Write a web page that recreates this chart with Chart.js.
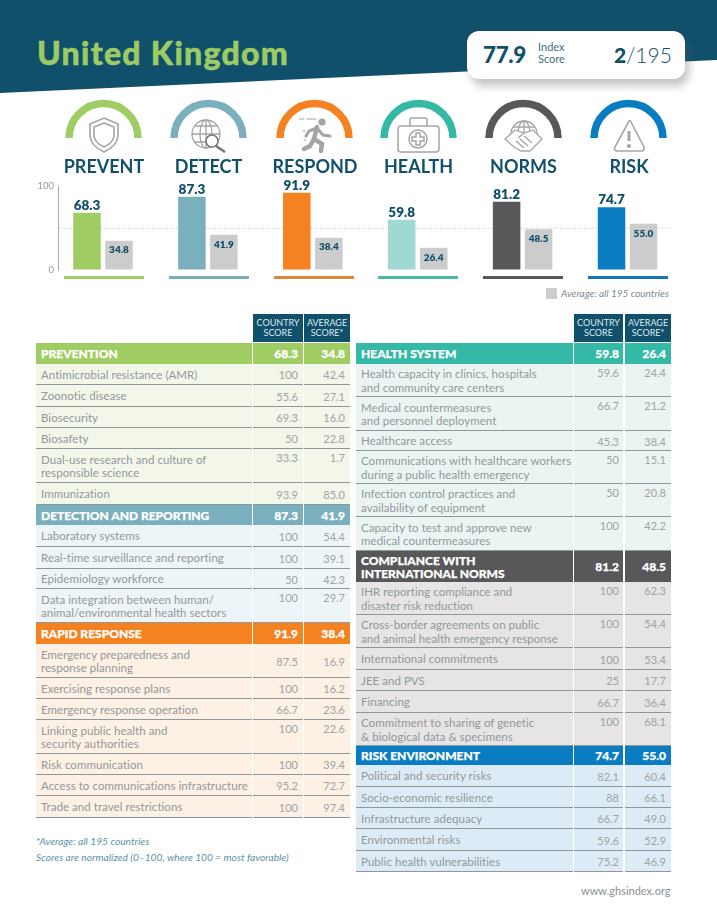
<!DOCTYPE html>
<html>
<head>
<meta charset="utf-8">
<title>United Kingdom</title>
<script src="https://cdn.jsdelivr.net/npm/chart.js@4"></script>
<style>
html, body { margin: 0; padding: 0; background: #fff; }
#page { position: relative; width: 717px; height: 910px; overflow: hidden; font-family: Lato, sans-serif; color: #11506b; }
#page > * { position: absolute; }
.abs { position: absolute; white-space: pre; }
#title { left: 37px; top: 33px; font-size: 32px; font-weight: 900; color: #9ccb63; letter-spacing: 1.3px; -webkit-text-stroke: .5px #9ccb63; }
#scorebox { left: 467px; top: 31px; width: 218px; height: 48px; background: #fff; border-radius: 12px; box-shadow: 4px 7px 8px rgba(90,90,90,.35); }
#legendbox { left: 546px; top: 288px; width: 11px; height: 11px; background: #ccc; }
#legendtxt { left: 561px; top: 287px; font-size: 10px; font-style: italic; color: #7d8a92; }
#foot1 { left: 36px; top: 835px; font-size: 10.2px; font-style: italic; color: #5a93a8; }
#foot2 { left: 36px; top: 851px; font-size: 10.2px; font-style: italic; color: #5a93a8; }
#url { left: 581px; top: 884px; font-size: 11px; color: #8a8f92; }
.cap { font-size: 18px; font-weight: 700; text-align: center; width: 110px; top: 155px; }
.under { top: 276px; height: 3px; }
.head { background: #11506b; color: #dce8ee; font-size: 9px; line-height: 10px; text-align: center; top: 314px; height: 28px; padding-top: 4px; box-sizing: border-box; }
.cell { box-sizing: border-box; }
.lbl { font-size: 11.5px; line-height: 13.5px; color: #939899; letter-spacing: .05px; }
.val { font-size: 11px; line-height: 13px; color: #a0a3a4; text-align: right; }
.sec { color: #fff; font-weight: 900; font-size: 12px; line-height: 13px; -webkit-text-stroke: .25px #fff; }
</style>
</head>
<body>
<div id="page">
  <svg id="art" width="717" height="910" style="left:0;top:0">
    <polygon points="0,0 717,0 717,60 0,93" fill="#11506b"/>
    <g id="arcs" fill="none" stroke-width="7.5"></g>
    <!-- shield -->
    <g fill="none" stroke="#a3a5a6" stroke-width="1.6">
      <path d="M104 118 L118 124 L118 136 Q117 146 104 152 Q91 146 90 136 L90 124 Z"/>
      <path d="M104 123 L114 127 L114 136 Q113 143 104 147 Q95 143 94 136 L94 127 Z"/>
    </g>
    <!-- globe and lens -->
    <g fill="none" stroke="#a3a5a6" stroke-width="1.3">
      <circle cx="206" cy="134" r="14"/>
      <ellipse cx="206" cy="134" rx="6" ry="14"/>
      <path d="M192 134 H220 M194 126 H218 M194 142 H214 M206 120 V148"/>
      <circle cx="212" cy="141" r="6" fill="#fff" stroke="#777" stroke-width="1.6"/>
      <path d="M216 146 L225 152" stroke="#777" stroke-width="2.4"/>
    </g>
    <!-- runner -->
    <g fill="none" stroke="#a3a5a6" stroke-linecap="round">
      <circle cx="322" cy="122" r="3.6" fill="#a3a5a6" stroke="none"/>
      <path d="M317 127 L314 139 L322 144 L321 151" stroke-width="4.5"/>
      <path d="M314 139 L310 146 L304 149" stroke-width="4.5"/>
      <path d="M317 128 L309 131 L306 136 M317 128 L323 135 L330 136" stroke-width="3"/>
      <path d="M299 119 H304 M307 119 H316 M303 131 H305 M304 140 H306" stroke-width="1"/>
    </g>
    <!-- kit -->
    <g fill="none" stroke="#a3a5a6" stroke-width="1.5">
      <rect x="398" y="126" width="41" height="26" rx="3"/>
      <path d="M410 126 V120 Q410 118 412 118 H425 Q427 118 427 120 V126"/>
      <circle cx="418" cy="139" r="9"/>
      <path d="M416 133 H420 V137 H424 V141 H420 V145 H416 V141 H412 V137 H416 Z"/>
    </g>
    <!-- hands and globe -->
    <g fill="none" stroke="#a3a5a6" stroke-width="1.3">
      <path d="M511 134 A13 13 0 0 1 537 134"/>
      <ellipse cx="524" cy="134" rx="6" ry="13"/>
      <path d="M513 127 H535 M524 121 V134"/>
      <path d="M505 139 L515 130 L524 133 L533 130 L542 139 L530 151 L521 151 L514 147 Z" fill="#fff"/>
      <path d="M516 141 L524 148 M520 139 L528 146 M524 136 L532 143 M524 133 L518 138"/>
    </g>
    <!-- warning -->
    <g fill="none" stroke="#a3a5a6" stroke-width="1.6">
      <path d="M629 121 Q630 120 631 122 L644 147 Q645 151 641 151 L618 151 Q613 151 615 147 Z"/>
      <path d="M629 131 V141" stroke-width="3"/>
      <circle cx="629" cy="146" r="1.3" fill="#a3a5a6"/>
    </g>
  </svg>
  <div id="title" class="abs">United Kingdom</div>
  <div id="scorebox"></div>
  <div class="abs" style="left:483px;top:41px;font-size:22.5px;font-weight:900;letter-spacing:-.4px">77.9</div>
  <div class="abs" style="left:538px;top:41px;font-size:11px;line-height:12px;color:#47707f">Index
Score</div>
  <div class="abs" style="left:614px;top:42px;font-size:21px"><b style="font-weight:900">2</b><span style="font-weight:300">/195</span></div>
  <canvas id="bars" width="717" height="112" style="left:0;top:168px;width:717px;height:112px"></canvas>
  <div id="legendbox"></div>
  <div id="legendtxt" class="abs">Average: all 195 countries</div>
  <div id="foot1" class="abs">*Average: all 195 countries</div>
  <div id="foot2" class="abs">Scores are normalized (0–100, where 100 = most favorable)</div>
  <div id="url" class="abs">www.ghsindex.org</div>
</div>
<script>
// top bar chart
const categories = ["PREVENT", "DETECT", "RESPOND", "HEALTH", "NORMS", "RISK"];
const countryScores = [68.3, 87.3, 91.9, 59.8, 81.2, 74.7];
const averageScores = [34.8, 41.9, 38.4, 26.4, 48.5, 55.0];
const yTicks = [0, 50, 100];

const barColors = ["#9fcd63", "#7aafbe", "#f58220", "#a0d8d2", "#58585a", "#0a7dc2"];
const arcColors = ["#9fcd63", "#7aafbe", "#f58220", "#33b9a5", "#58585a", "#0a7dc2"];
const underColors = ["#9fcd63", "#7aafbe", "#e0873f", "#4db5a5", "#58585a", "#1478b8"];

// tables
const preventLabels = ["Antimicrobial resistance (AMR)", "Zoonotic disease", "Biosecurity", "Biosafety", "Dual-use research and culture of\nresponsible science", "Immunization"];
const preventCountry = ["100", "55.6", "69.3", "50", "33.3", "93.9"];
const preventAverage = ["42.4", "27.1", "16.0", "22.8", "1.7", "85.0"];

const detectLabels = ["Laboratory systems", "Real-time surveillance and reporting", "Epidemiology workforce", "Data integration between human/\nanimal/environmental health sectors"];
const detectCountry = ["100", "100", "50", "100"];
const detectAverage = ["54.4", "39.1", "42.3", "29.7"];

const respondLabels = ["Emergency preparedness and\nresponse planning", "Exercising response plans", "Emergency response operation", "Linking public health and\nsecurity authorities", "Risk communication", "Access to communications infrastructure", "Trade and travel restrictions"];
const respondCountry = ["87.5", "100", "66.7", "100", "100", "95.2", "100"];
const respondAverage = ["16.9", "16.2", "23.6", "22.6", "39.4", "72.7", "97.4"];

const healthLabels = ["Health capacity in clinics, hospitals\nand community care centers", "Medical countermeasures\nand personnel deployment", "Healthcare access", "Communications with healthcare workers\nduring a public health emergency", "Infection control practices and\navailability of equipment", "Capacity to test and approve new\nmedical countermeasures"];
const healthCountry = ["59.6", "66.7", "45.3", "50", "50", "100"];
const healthAverage = ["24.4", "21.2", "38.4", "15.1", "20.8", "42.2"];

const normsLabels = ["IHR reporting compliance and\ndisaster risk reduction", "Cross-border agreements on public\nand animal health emergency response", "International commitments", "JEE and PVS", "Financing", "Commitment to sharing of genetic\n& biological data & specimens"];
const normsCountry = ["100", "100", "100", "25", "66.7", "100"];
const normsAverage = ["62.3", "54.4", "53.4", "17.7", "36.4", "68.1"];

const riskLabels = ["Political and security risks", "Socio-economic resilience", "Infrastructure adequacy", "Environmental risks", "Public health vulnerabilities"];
const riskCountry = ["82.1", "88", "66.7", "59.6", "75.2"];
const riskAverage = ["60.4", "66.1", "49.0", "52.9", "46.9"];

const page = document.getElementById("page");
const add = (cls, style, text) => {
  const d = document.createElement("div");
  d.className = "abs " + cls;
  d.style.cssText = style;
  d.textContent = text;
  page.appendChild(d);
  return d;
};

// arcs, captions and underlines
const arcCentres = [103.5, 208.5, 314.5, 418.5, 523.5, 628.5];
const capCentres = [104, 208.5, 315, 418.5, 523.5, 629];
const underLeft = [64, 169, 274, 378, 483, 588];
const arcs = document.getElementById("arcs");
categories.forEach((c, i) => {
  const p = document.createElementNS("http://www.w3.org/2000/svg", "path");
  const x = arcCentres[i];
  p.setAttribute("d", `M${x - 34.5} 138 A34.5 34.5 0 0 1 ${x + 34.5} 138`);
  p.setAttribute("stroke", arcColors[i]);
  arcs.appendChild(p);
  add("cap", `left:${capCentres[i] - 55}px`, c);
  add("under", `left:${underLeft[i]}px;width:80px;background:${underColors[i]}`, "");
});

function drawTable(x, rows) {
  ["COUNTRY\nSCORE", "AVERAGE\nSCORE*"].forEach((t, i) => {
    add("head", `left:${x.col[i][0]}px;width:${x.col[i][1] - x.col[i][0]}px`, t);
  });
  rows.forEach((s) => {
    // section header row
    const hh = s.bottom[0] - s.top;
    const cells = [[x.left, x.right], x.col[0], x.col[1]];
    cells.forEach((c) => add("cell", `left:${c[0]}px;top:${s.top}px;width:${c[1] - c[0]}px;height:${hh}px;background:${s.color}`, ""));
    add("sec", `left:${x.left + 5}px;top:${s.top + (hh - s.title.split("\n").length * 13) / 2}px`, s.title);
    [0, 1].forEach((i) => add("sec", `right:${717 - x.num[i]}px;top:${s.top + (hh - 13) / 2}px`, i ? s.avg : s.score));
    // detail rows
    s.labels.forEach((l, r) => {
      const top = s.bottom[r], bot = s.bottom[r + 1], h = bot - top;
      cells.forEach((c) => add("cell", `left:${c[0]}px;top:${top}px;width:${c[1] - c[0]}px;height:${h}px;background:${s.tint};border-bottom:1.5px solid #8f9899`, ""));
      const two = l.includes("\n");
      add("lbl", `left:${x.left + 5}px;top:${top + (h - (two ? 27 : 13.5)) / 2}px`, l);
      const middle = !two || l.startsWith("Emergency");
      const vy = middle ? top + (h - 13) / 2 : top + 2;
      add("val", `right:${717 - x.num[0]}px;top:${vy}px`, s.c[r]);
      add("val", `right:${717 - x.num[1]}px;top:${vy}px`, s.a[r]);
    });
  });
}

drawTable({ left: 36, right: 252, col: [[253, 303], [304, 350]], num: [298, 345] }, [
  { title: "PREVENTION", score: "68.3", avg: "34.8", color: "#9fcd63", tint: "#f2f7ea", top: 343, bottom: [364, 385, 407, 428, 449, 483, 505], labels: preventLabels, c: preventCountry, a: preventAverage },
  { title: "DETECTION AND REPORTING", score: "87.3", avg: "41.9", color: "#7aafbe", tint: "#eef5f8", top: 505, bottom: [525, 547, 569, 589, 623], labels: detectLabels, c: detectCountry, a: detectAverage },
  { title: "RAPID RESPONSE", score: "91.9", avg: "38.4", color: "#f58220", tint: "#fdf0e4", top: 623, bottom: [644, 678, 699, 720, 754, 775, 796, 818], labels: respondLabels, c: respondCountry, a: respondAverage }
]);
drawTable({ left: 356, right: 573, col: [[574, 623], [625, 671]], num: [619, 666] }, [
  { title: "HEALTH SYSTEM", score: "59.8", avg: "26.4", color: "#33b9a5", tint: "#eaf5f3", top: 343, bottom: [364, 397, 431, 451, 484, 517, 551], labels: healthLabels, c: healthCountry, a: healthAverage },
  { title: "COMPLIANCE WITH\nINTERNATIONAL NORMS", score: "81.2", avg: "48.5", color: "#58585a", tint: "#e6e4e4", top: 551, bottom: [582, 615, 648, 670, 691, 713, 746], labels: normsLabels, c: normsCountry, a: normsAverage },
  { title: "RISK ENVIRONMENT", score: "74.7", avg: "55.0", color: "#0a7dc2", tint: "#ddebf7", top: 746, bottom: [765, 787, 808, 829, 851, 872], labels: riskLabels, c: riskCountry, a: riskAverage }
]);

// numbers on the bars
const barValues = {
  id: "barValues",
  afterDatasetsDraw(chart) {
    const ctx = chart.ctx;
    ctx.save();
    ctx.textAlign = "center";
    ctx.fillStyle = "#11506b";
    chart.getDatasetMeta(0).data.forEach((bar, i) => {
      ctx.font = "800 13.5px Lato";
      ctx.textBaseline = "alphabetic";
      ctx.fillText(countryScores[i].toFixed(1), bar.x, bar.y - 3);
    });
    chart.getDatasetMeta(1).data.forEach((bar, i) => {
      ctx.font = "800 10px Lato";
      ctx.textBaseline = "middle";
      ctx.fillText(averageScores[i].toFixed(1), bar.x, bar.y + 9.5);
    });
    ctx.restore();
  },
};

document.fonts.load("800 13px Lato").then(() => {
  new Chart(document.getElementById("bars"), {
    type: "bar",
    data: {
      datasets: [
        { label: "Country score", data: countryScores.map((v, i) => ({ x: i, y: v })), backgroundColor: barColors },
        { label: "Average: all 195 countries", data: averageScores.map((v, i) => ({ x: i, y: v })), backgroundColor: "#cccccc" },
      ],
    },
    options: {
      responsive: false,
      animation: false,
      layout: { padding: { top: 18, bottom: 10, right: 47, left: 0 } },
      categoryPercentage: 0.61,
      barPercentage: 0.86,
      plugins: { legend: { display: false }, tooltip: { enabled: false } },
      scales: {
        x: {
          type: "linear",
          offset: false,
          min: -0.429,
          max: 5.405,
          display: false,
          grid: { display: false },
        },
        y: {
          min: 0,
          max: 100,
          afterFit: (s) => { s.width = 58; },
          afterBuildTicks: (s) => { s.ticks = yTicks.map((v) => ({ value: v })); },
          border: { color: "#9fb0b6", dash: [1, 2] },
          grid: {
            drawTicks: false,
            color: (c) => (c.tick && c.tick.value === 50 ? "#c4cacc" : "transparent"),
            lineWidth: 1,
          },
          ticks: {
            padding: 4,
            color: "#8b9aa2",
            font: { family: "Lato", size: 9.5 },
            callback: (v) => (v === 50 ? "" : v),
          },
        },
      },
    },
    plugins: [barValues],
  });
});
</script>
</body>
</html>
